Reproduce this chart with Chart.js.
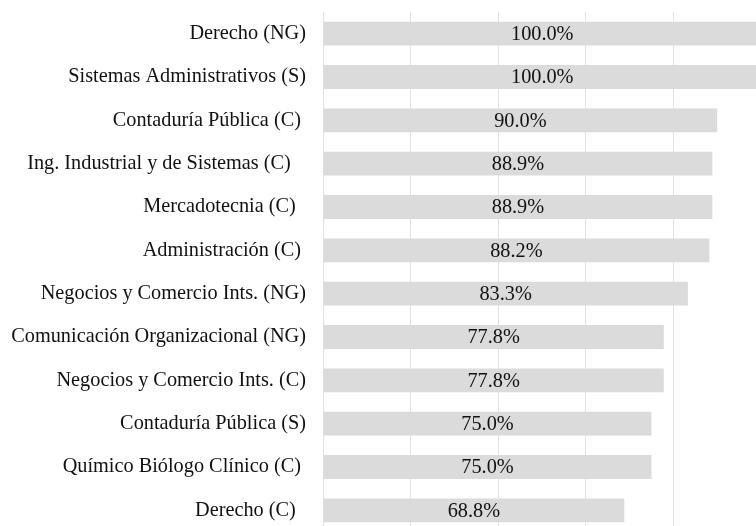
<!DOCTYPE html>
<html>
<head>
<meta charset="utf-8">
<script src="https://cdn.jsdelivr.net/npm/chart.js@4/dist/chart.umd.min.js"></script>
<style>
  html, body { margin: 0; padding: 0; background: #fff; overflow: hidden; }
  #wrap { position: relative; width: 761px; height: 532px; }
</style>
</head>
<body>
<div id="wrap"><canvas id="chart"></canvas></div>
<script>
// some names carry trailing spaces in the source, which shifts them left
var programas = [
    'Derecho (NG)',
    'Sistemas Administrativos (S)',
    'Contaduría Pública (C) ',
    'Ing. Industrial y de Sistemas (C)   ',
    'Mercadotecnia (C)  ',
    'Administración (C) ',
    'Negocios y Comercio Ints. (NG)',
    'Comunicación Organizacional (NG)',
    'Negocios y Comercio Ints. (C)',
    'Contaduría Pública (S)',
    'Químico Biólogo Clínico (C) ',
    'Derecho (C)  '
];
var porcentajes = [100.0, 100.0, 90.0, 88.9, 88.9, 88.2, 83.3, 77.8, 77.8, 75.0, 75.0, 68.8];
var escalaX = [0, 20, 40, 60, 80, 100];

var fuente = { family: '"Liberation Serif", "Times New Roman", serif', size: 20.3 };

// draw the value in the middle of each bar
var etiquetasCentro = {
    id: 'etiquetasCentro',
    afterDatasetsDraw: function(chart) {
        var ctx = chart.ctx;
        var meta = chart.getDatasetMeta(0);
        ctx.save();
        ctx.font = fuente.size + 'px ' + fuente.family;
        ctx.fillStyle = '#111';
        ctx.textAlign = 'center';
        ctx.textBaseline = 'middle';
        meta.data.forEach(function(bar, i) {
            var cx = (bar.x + bar.base) / 2;
            ctx.fillText(porcentajes[i].toFixed(1) + '%', cx, bar.y + 1);
        });
        ctx.restore();
    }
};

new Chart(document.getElementById('chart').getContext('2d'), {
    type: 'bar',
    data: {
        labels: programas,
        datasets: [{
            data: porcentajes,
            backgroundColor: '#dbdbdb',
            borderWidth: 0,
            barPercentage: 0.55,
            categoryPercentage: 1.0
        }]
    },
    options: {
        indexAxis: 'y',
        responsive: true,
        maintainAspectRatio: false,
        animation: false,
        layout: { padding: { top: 12, left: 0, right: 0, bottom: 0 } },
        scales: {
            x: {
                min: escalaX[0],
                max: escalaX[escalaX.length - 1],
                afterBuildTicks: function(scale) {
                    scale.ticks = escalaX.map(function(v) { return { value: v }; });
                },
                afterFit: function(scale) { scale.height = 0; },
                ticks: { display: false },
                grid: { color: '#e2e2e2', lineWidth: 1, drawTicks: false },
                border: { display: false }
            },
            y: {
                afterFit: function(scale) {
                    scale.width = 323;
                    scale.paddingTop = 0;
                    scale.paddingBottom = 0;
                },
                ticks: { color: '#111', font: fuente, padding: 17 },
                grid: { display: false, drawTicks: false },
                border: { display: false }
            }
        },
        plugins: {
            legend: { display: false },
            tooltip: { enabled: false }
        }
    },
    plugins: [etiquetasCentro]
});
</script>
</body>
</html>
